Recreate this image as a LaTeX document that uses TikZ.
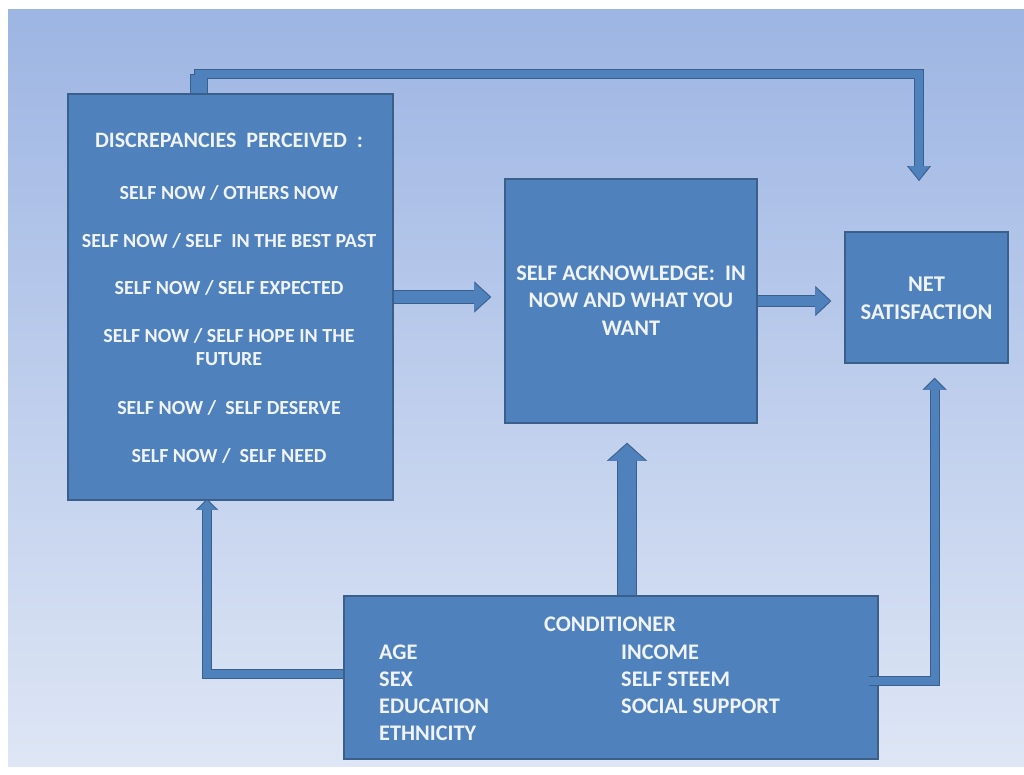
\documentclass[tikz,border=0pt]{standalone}
\usepackage{fontspec}
\setmainfont{Carlito}
\usetikzlibrary{arrows.meta,calc}

\definecolor{boxblue}{HTML}{4F81BD}
\definecolor{boxline}{HTML}{3A5F8B}
\definecolor{bgtop}{HTML}{9DB5E3}
\definecolor{bgmid}{HTML}{C4D2EE}
\definecolor{bgbot}{HTML}{DEE6F5}
\definecolor{txtwhite}{HTML}{F0F4FA}

\tikzset{
  box/.style={draw=boxline, line width=1.5pt, fill=boxblue, inner sep=0pt},
  head/.style={text=txtwhite, font=\bfseries\fontsize{22}{23}\selectfont, align=center, inner sep=0pt},
  item/.style={text=txtwhite, font=\bfseries\fontsize{20}{23}\selectfont, align=center, inner sep=0pt},
  cond/.style={text=txtwhite, font=\bfseries\fontsize{22.3}{20}\selectfont, anchor=west, inner sep=0pt},
  outer/.style={draw=boxline, line join=miter},
  inner/.style={draw=boxblue, line join=miter},
}

\begin{document}
\begin{tikzpicture}[x=1pt, y=-1pt]
  \useasboundingbox (0,0) rectangle (1024,774);
  \fill[white] (0,0) rectangle (1024,774);
  \shade[top color=bgtop, middle color=bgmid, bottom color=bgbot] (8,9) rectangle (1024,766);

  % boxes
  \node[box, minimum width=325, minimum height=406] (disc) at (230.5,297) {};
  \node[box, minimum width=252, minimum height=244] (ack) at (631,301) {};
  \node[box, minimum width=163, minimum height=131] (net) at (926.5,297.5) {};
  \node[box, minimum width=534, minimum height=163] (cnd) at (611,677.5) {};

  % discrepancies
  \node[head] (dhead) at (229,140) {DISCREPANCIES\ \ PERCEIVED\ \ :};
  \node[item] (d1) at (229,193) {SELF NOW / OTHERS NOW};
  \node[item] (d2) at (229,241) {SELF NOW / SELF\ \ IN THE BEST PAST};
  \node[item] (d3) at (229,288) {SELF NOW / SELF EXPECTED};
  \node[item] (d4) at (229,347.5) {SELF NOW / SELF HOPE IN THE\\FUTURE};
  \node[item] (d5) at (229,408) {SELF NOW /\ \ SELF DESERVE};
  \node[item] (d6) at (229,456) {SELF NOW /\ \ SELF NEED};

  \node[head, font=\bfseries\fontsize{22.3}{27.5}\selectfont] (acktxt) at (631,300.5) {SELF ACKNOWLEDGE:\ \ IN\\NOW AND WHAT YOU\\WANT};
  \node[head, font=\bfseries\fontsize{22.5}{28}\selectfont] (nettxt) at (926.5,298) {NET\\SATISFACTION};

  % conditioner
  \node[cond, anchor=center] (chead) at (610,624) {CONDITIONER};
  \node[cond] (age) at (379,652) {AGE};
  \node[cond] (sex) at (379,679) {SEX};
  \node[cond] (edu) at (379,706) {EDUCATION};
  \node[cond] (eth) at (379,733) {ETHNICITY};
  \node[cond] (inc) at (621,652) {INCOME};
  \node[cond] (est) at (621,679) {SELF STEEM};
  \node[cond] (soc) at (621,706) {SOCIAL SUPPORT};

  \coordinate (ackup) at ([xshift=-4pt,yshift=-19pt]ack.south);
  \coordinate (topbend) at (919,74);
  \coordinate (topend) at (919,181);

  % block arrows, outline first
  \draw[outer, line width=14, -{Triangle[width=31,length=17,line width=0.1pt]}] (disc.east) -- ([xshift=-13pt]disc.east -| ack.west);
  \draw[outer, line width=12, -{Triangle[width=30,length=16,line width=0.1pt]}] (ack.east) -- ([xshift=-13pt]ack.east -| net.west);
  \draw[outer, line width=20, -{Triangle[width=40,length=18,line width=0.1pt]}] (cnd.north -| ackup) -- (ackup);
  \draw[outer, line width=10, -{Triangle[width=22,length=11,line width=0.1pt]}] ([yshift=3.5pt]cnd.west) -| ([xshift=-23.5pt,yshift=2pt]disc.south);
  \draw[outer, line width=10, -{Triangle[width=24,length=12,line width=0.1pt]}] ([xshift=-10pt,yshift=-3.5pt]cnd.east) -| ([xshift=8pt,yshift=-14pt]net.south);
  \draw[outer, line width=18] ([xshift=-31.5pt]disc.north) -- ([xshift=-31.5pt]disc.north |- topbend);
  \draw[outer, line width=10, -{Triangle[width=24,length=15,line width=0.1pt]}] ([xshift=-36.5pt]disc.north |- topbend) -- (topbend) -- (topend);

  \draw[inner, line width=12, -{Triangle[width=28,length=15.5,line width=0.1pt]}, shorten >=1.5pt] (disc.east) -- ([xshift=-13pt]disc.east -| ack.west);
  \draw[inner, line width=10, -{Triangle[width=27,length=14.5,line width=0.1pt]}, shorten >=1.5pt] (ack.east) -- ([xshift=-13pt]ack.east -| net.west);
  \draw[inner, line width=18, -{Triangle[width=37,length=16.5,line width=0.1pt]}, shorten >=1.5pt] (cnd.north -| ackup) -- (ackup);
  \draw[inner, line width=8, -{Triangle[width=19,length=9.5,line width=0.1pt]}, shorten >=1.5pt] ([yshift=3.5pt]cnd.west) -| ([xshift=-23.5pt,yshift=2pt]disc.south);
  \draw[inner, line width=8, -{Triangle[width=21,length=10.5,line width=0.1pt]}, shorten >=1.5pt] ([xshift=-10pt,yshift=-3.5pt]cnd.east) -| ([xshift=8pt,yshift=-14pt]net.south);
  \draw[inner, line width=16] ([xshift=-31.5pt]disc.north) -- ([xshift=-31.5pt,yshift=-1pt]disc.north |- topbend);
  \draw[inner, line width=8, -{Triangle[width=21,length=13.5,line width=0.1pt]}, shorten >=1.5pt] ([xshift=-35.5pt]disc.north |- topbend) -- (topbend) -- (topend);
\end{tikzpicture}
\end{document}
